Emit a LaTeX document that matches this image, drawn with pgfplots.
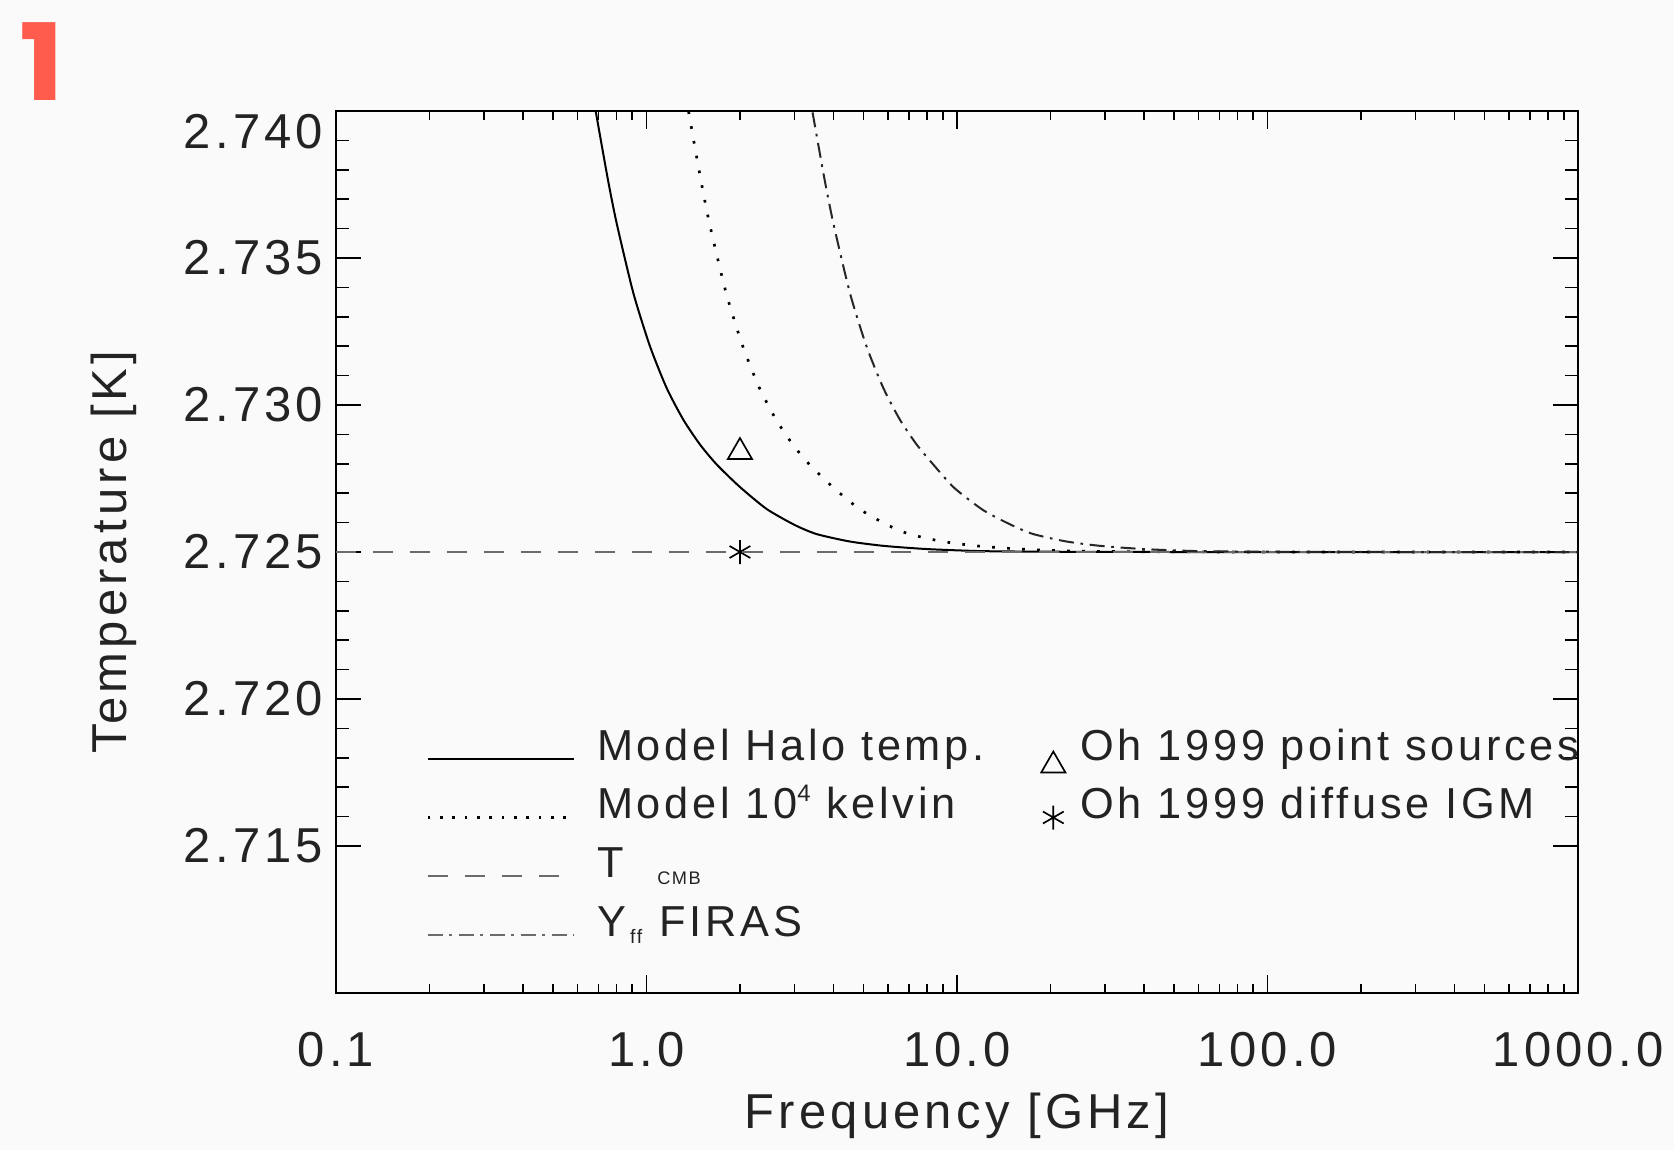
\documentclass[border=0pt]{standalone}
\usepackage{fontspec}
\setmainfont{Liberation Sans}[LetterSpace=8.5]
\newfontfamily\numfont{Poppins}
\usepackage{pgfplots}
\pgfplotsset{compat=1.18}
\definecolor{bg}{RGB}{250,250,250}
\definecolor{redone}{RGB}{255,92,77}
\definecolor{txt}{RGB}{35,35,35}
\newcommand{\bigfnt}{\fontsize{14.7}{17}\selectfont}
\newcommand{\legfnt}{\fontsize{13}{15}\selectfont}
\pgfplotsset{
  markleg/.style={legend image code/.code={\path (0pt,0pt) (7pt,0pt); \draw[##1] plot coordinates {(3.5pt,#1)};}},
  lineleg/.style={legend image code/.code={\path (0pt,-3pt) (46pt,-3pt); \draw[##1] (0pt,-3pt) -- (44pt,-3pt);}},
}
\begin{document}
\begin{tikzpicture}
\useasboundingbox (-100.8pt,-47.1pt) rectangle (401.4pt,297.9pt);
\fill[bg] (-100.8pt,-47.1pt) rectangle (401.4pt,297.9pt);
\node[font=\numfont\bfseries\fontsize{32}{32}\selectfont, text=redone, xscale=1.12] at (-88.2pt,279.3pt) {1};
\begin{axis}[
  at={(0pt,0pt)}, anchor=south west,
  xmode=log, scale only axis, width=372.6pt, height=264.6pt,
  xmin=0.1, xmax=1000, ymin=2.710, ymax=2.740,
  xtick={0.1,1,10,100,1000}, xticklabels={0.1,1.0,10.0,100.0,1000.0},
  ytick={2.715,2.72,2.725,2.73,2.735,2.74},
  yticklabels={2.715,2.720,2.725,2.730,2.735,\smash{\raisebox{-11.25pt}{2.740}}},
  minor y tick num=4,
  tick align=inside,
  axis line style={line width=0.7pt, black},
  every tick/.style={line width=0.5pt, black},
  xtick style={/pgfplots/major tick length=5.3pt,/pgfplots/minor tick length=2.6pt},
  ytick style={/pgfplots/major tick length=7.5pt,/pgfplots/minor tick length=3.8pt},
  ticklabel style={font=\bigfnt, text=txt},
  xticklabel style={yshift=-8.3pt},
  yticklabel style={xshift=-0.3pt},
  xlabel={Frequency [GHz]}, ylabel={Temperature [K]},
  every axis x label/.style={at={(axis description cs:0.5,0)}, yshift=-36.9pt, anchor=center, font=\bigfnt, text=txt},
  every axis y label/.style={at={(axis description cs:0,0.5)}, xshift=-66.6pt, rotate=90, anchor=center, font=\bigfnt, text=txt},
  legend columns=2,
  legend cell align=left,
  legend style={at={(rel axis cs:0.0722,0.3044)}, anchor=north west, draw=none, fill=none,
    font=\legfnt, text=txt, inner sep=0pt, row sep=3.4pt, column sep=3.4pt,
    nodes={inner sep=1pt, text height=9.5pt, text depth=2.7pt},
    /tikz/every even column/.append style={column sep=15.9pt}},
  lineleg,
]
\addplot[black, line width=0.6pt, smooth, tension=0.4] table {
x y
0.66 2.74099
0.686 2.74000
0.75 2.73771
0.802 2.73617
0.907 2.73381
1.026 2.73200
1.161 2.73058
1.314 2.72950
1.486 2.72866
1.682 2.72798
2.0 2.72721
2.44 2.72646
3.0 2.72592
3.53 2.72561
4.5 2.72536
5.79 2.72521
8 2.72510
12 2.72503
20 2.72501
50 2.72500
1000 2.72500
};
\addlegendentry{Model Halo temp.}
\addplot[only marks, mark=triangle, mark size=4.2pt, black, line width=0.5pt, markleg=-5pt]
  coordinates {(2.0,2.7284)};
\addlegendentry{Oh 1999 point sources}
\addplot[black, line width=0.8pt, dash pattern=on 0.8pt off 3.7pt, smooth, tension=0.4,
  legend image post style={dash pattern=on 0.8pt off 2.9pt}] table {
x y
1.313 2.74099
1.365 2.74000
1.493 2.73771
1.596 2.73617
1.805 2.73381
2.042 2.73200
2.310 2.73058
2.615 2.72950
2.957 2.72866
3.347 2.72798
3.98 2.72721
4.856 2.72646
5.97 2.72592
7.02 2.72561
8.96 2.72536
11.52 2.72521
15.9 2.72510
23.9 2.72503
39.8 2.72501
100 2.72500
1000 2.72500
};
\addlegendentry{Model 10\raisebox{0.75ex}{\scalebox{0.55}{4}} kelvin}
\addplot[only marks, mark=asterisk, mark size=3.6pt, black, line width=0.5pt, markleg=-3pt]
  coordinates {(2.0,2.725)};
\addlegendentry{Oh 1999 diffuse IGM}
\addplot[black!58, line width=0.6pt, dash pattern=on 6pt off 5.1pt] coordinates {(0.1,2.725) (1000,2.725)};
\addlegendentry{T\hspace{0.78em}\raisebox{-0.3ex}{\scalebox{0.42}{CMB}}}
\addlegendimage{empty legend}
\addlegendentry{}
\addplot[black!85, line width=0.6pt, dash pattern=on 4.5pt off 2pt on 0.8pt off 2pt, smooth, tension=0.4,
  legend image post style={black!58}] table {
x y
3.29 2.74099
3.42 2.74000
3.74 2.73771
4.00 2.73617
4.52 2.73381
5.11 2.73200
5.79 2.73058
6.55 2.72950
7.41 2.72866
8.38 2.72798
9.80 2.72718
12.16 2.72642
14.96 2.72592
17.60 2.72561
22.43 2.72536
28.86 2.72521
39.9 2.72510
59.8 2.72503
99.7 2.72501
249 2.72500
1000 2.72500
};
\addlegendentry{Y\hspace{0.1em}\raisebox{-0.3ex}{\scalebox{0.45}{ff}}\hspace{0.4em}FIRAS}
\end{axis}
\end{tikzpicture}
\end{document}
